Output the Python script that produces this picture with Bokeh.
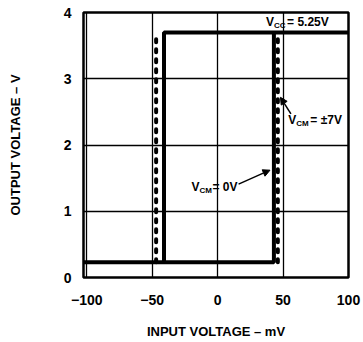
from bokeh.plotting import figure
from bokeh.models import Label, Arrow, NormalHead, FixedTicker, Range1d
from bokeh.embed import file_html
from bokeh.resources import INLINE

# ---- data ----
x_ticks = [-100, -50, 0, 50, 100]
y_ticks = [0, 1, 2, 3, 4]
vol = 0.23          # output low level (V)
voh = 3.70          # output high level (V)
vcm0_thr = [-41, 43]   # V_CM = 0V switching thresholds (mV)
vcm7_thr = [-47, 46]   # V_CM = ±7V switching thresholds (mV)
x_min, x_max = -102.5, 100

FONT = "Liberation Sans"

p = figure(width=363, height=342, output_backend="svg", toolbar_location=None,
           x_range=Range1d(x_min, x_max), y_range=Range1d(0, 4),
           min_border_left=83, min_border_right=15, min_border_top=12, min_border_bottom=65)
p.background_fill_color = "white"
p.border_fill_color = "white"
p.outline_line_color = "black"
p.outline_line_width = 2.5

for ax in (p.xaxis, p.yaxis):
    ax.axis_line_color = None
    ax.major_tick_line_color = None
    ax.minor_tick_line_color = None
    ax.major_label_text_font = FONT
    ax.major_label_text_font_style = "bold"
    ax.major_label_text_font_size = "14px"
    ax.major_label_text_color = "black"
    ax.axis_label_text_font = FONT
    ax.axis_label_text_font_style = "bold"
    ax.axis_label_text_font_size = "13px"
    ax.axis_label_text_color = "black"

p.xaxis.ticker = FixedTicker(ticks=x_ticks)
p.yaxis.ticker = FixedTicker(ticks=y_ticks)
p.xaxis.major_label_overrides = {t: ("\u2212" + str(-t) if t < 0 else str(t)) for t in x_ticks}
p.xaxis.major_label_standoff = 11
p.yaxis.major_label_standoff = 6
p.xaxis.axis_label = "INPUT VOLTAGE \u2013 mV"
p.yaxis.axis_label = "OUTPUT VOLTAGE \u2013 V"
p.xaxis.axis_label_standoff = 16
p.yaxis.axis_label_standoff = 38

p.grid.grid_line_color = "black"
p.grid.grid_line_width = 1.3
p.grid.grid_line_alpha = 1.0

# V_CM = ±7V (dotted)
for xv in vcm7_thr:
    p.line([xv, xv], [vol, voh], line_color="black", line_width=4,
           line_dash="3 7", line_cap="round")

# V_CM = 0V (solid)
p.line([x_min, vcm0_thr[1], vcm0_thr[1]], [vol, vol, voh], line_color="black", line_width=4)
p.line([vcm0_thr[0], vcm0_thr[0], x_max], [vol, voh, voh], line_color="black", line_width=4)

def label(x, y, text, size, xo=0, yo=0):
    p.add_layout(Label(x=x, y=y, x_offset=xo, y_offset=yo, text=text, text_font=FONT,
                       text_font_style="bold", text_font_size=size, text_color="black",
                       text_baseline="middle", text_align="left"))

# V_CC = 5.25V
label(37, 3.86, "V", "12px")
label(37, 3.86, "CC", "8px", xo=8, yo=-4)
label(37, 3.86, "= 5.25V", "12px", xo=21)

# V_CM = ±7V
label(54, 2.38, "V", "12px")
label(54, 2.38, "CM", "8px", xo=8, yo=-4)
label(54, 2.38, "= \u00b17V", "12px", xo=22)

# V_CM = 0V
label(-20, 1.37, "V", "12px")
label(-20, 1.37, "CM", "8px", xo=8, yo=-4)
label(-20, 1.37, "= 0V", "12px", xo=21)

p.add_layout(Arrow(end=NormalHead(size=7, fill_color="black", line_color="black"),
                   x_start=56, y_start=2.47, x_end=48, y_end=2.72,
                   line_color="black", line_width=1.5))
p.add_layout(Arrow(end=NormalHead(size=7, fill_color="black", line_color="black"),
                   x_start=16, y_start=1.41, x_end=40, y_end=1.62,
                   line_color="black", line_width=1.5))

open("out.html", "w").write(file_html(p, INLINE))
